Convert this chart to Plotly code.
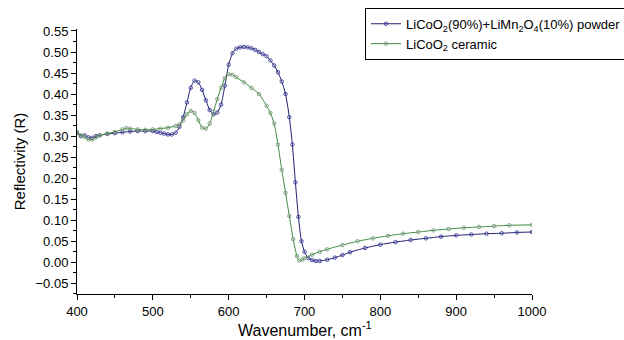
import plotly.graph_objects as go

powder_x = [400, 405, 410, 415, 420, 425, 430, 440, 450, 460, 470, 480, 490, 500, 505, 510, 515, 520, 525,
            530, 535, 540, 545, 550, 555, 560, 565, 570, 575, 580, 585, 590, 595, 600, 605, 610, 615, 620,
            625, 630, 635, 640, 645, 650, 655, 660, 665, 670, 675, 680, 684, 688, 692, 696, 700, 705, 710,
            715, 720, 730, 740, 750, 760, 780, 800, 820, 840, 860, 880, 900, 920, 940, 960, 980, 1000]
powder_y = [0.308, 0.300, 0.302, 0.297, 0.296, 0.300, 0.302, 0.305, 0.307, 0.309, 0.311, 0.312, 0.312, 0.312,
            0.310, 0.308, 0.306, 0.304, 0.304, 0.308, 0.322, 0.345, 0.380, 0.415, 0.432, 0.428, 0.410, 0.385,
            0.362, 0.352, 0.356, 0.375, 0.420, 0.470, 0.497, 0.508, 0.511, 0.512, 0.511, 0.509, 0.505, 0.500,
            0.495, 0.490, 0.480, 0.468, 0.452, 0.430, 0.400, 0.345, 0.280, 0.190, 0.108, 0.050, 0.025, 0.010,
            0.005, 0.003, 0.003, 0.006, 0.011, 0.017, 0.024, 0.034, 0.042, 0.048, 0.053, 0.057, 0.061, 0.064,
            0.066, 0.068, 0.069, 0.071, 0.072]

ceramic_x = [400, 405, 410, 415, 420, 425, 430, 440, 450, 460, 465, 470, 480, 490, 500, 510, 520, 530, 535,
             540, 545, 550, 555, 560, 565, 570, 575, 580, 585, 590, 595, 600, 605, 610, 620, 630, 640, 650,
             655, 660, 665, 670, 675, 680, 685, 690, 693, 697, 700, 710, 720, 730, 750, 770, 790, 810, 830,
             850, 870, 890, 910, 930, 950, 970, 1000]
ceramic_y = [0.310, 0.302, 0.298, 0.292, 0.292, 0.297, 0.302, 0.306, 0.310, 0.316, 0.319, 0.318, 0.316, 0.315,
             0.316, 0.318, 0.320, 0.324, 0.328, 0.337, 0.352, 0.360, 0.355, 0.338, 0.320, 0.318, 0.330, 0.358,
             0.388, 0.415, 0.438, 0.447, 0.446, 0.440, 0.428, 0.415, 0.400, 0.372, 0.355, 0.330, 0.280, 0.220,
             0.165, 0.110, 0.055, 0.015, 0.004, 0.006, 0.010, 0.018, 0.025, 0.031, 0.041, 0.050, 0.057, 0.063,
             0.068, 0.072, 0.076, 0.079, 0.082, 0.084, 0.086, 0.088, 0.089]

name_powder = "LiCoO<sub>2</sub>(90%)+LiMn<sub>2</sub>O<sub>4</sub>(10%) powder"
name_ceramic = "LiCoO<sub>2</sub> ceramic"
x_title = "Wavenumber, cm<sup>-1</sup>"
y_title = "Reflectivity (R)"

FONT = "Liberation Sans, Arial, sans-serif"

fig = go.Figure()
fig.add_trace(go.Scatter(
    x=powder_x, y=powder_y, name=name_powder, mode="lines+markers",
    line=dict(color="#1e1e6e", width=1, shape="spline", smoothing=0.6),
    marker=dict(symbol="circle-open", size=3.5, color="#3a3a9a", line=dict(width=0.9)),
))
fig.add_trace(go.Scatter(
    x=ceramic_x, y=ceramic_y, name=name_ceramic, mode="lines+markers",
    line=dict(color="#3f8a3f", width=1, shape="spline", smoothing=0.6),
    marker=dict(symbol="circle-open", size=3.5, color="#7a9a7a", line=dict(width=0.9)),
))

fig.update_layout(
    width=624, height=340,
    margin=dict(l=77, r=92, t=29, b=46, autoexpand=False),
    paper_bgcolor="white", plot_bgcolor="white",
    font=dict(family=FONT, color="black", size=13),
    showlegend=True,
    legend=dict(
        x=0.633, y=1.08, xanchor="left", yanchor="top",
        bordercolor="black", borderwidth=1, bgcolor="white",
        font=dict(family=FONT, size=13, color="black"),
        tracegroupgap=0, itemwidth=30,
    ),
    annotations=[dict(
        text=x_title, xref="paper", yref="paper", x=0.5, y=-0.132,
        xanchor="center", yanchor="middle", showarrow=False,
        font=dict(family=FONT, size=16, color="black"),
    )],
)
fig.update_xaxes(
    range=[400, 1000], dtick=100, tick0=400,
    showgrid=False, zeroline=False,
    showline=True, linecolor="black", linewidth=1,
    ticks="outside", ticklen=5, tickwidth=1, tickcolor="black",
    minor=dict(dtick=50, ticks="outside", ticklen=3, tickcolor="black", showgrid=False),
    tickfont=dict(size=13),
)
fig.update_yaxes(
    range=[-0.0754, 0.5547], dtick=0.05, tick0=0, tickformat=".2f",
    showgrid=False, zeroline=False,
    showline=True, linecolor="black", linewidth=1,
    ticks="outside", ticklen=5, tickwidth=1, tickcolor="black",
    minor=dict(dtick=0.025, ticks="outside", ticklen=3, tickcolor="black", showgrid=False),
    tickfont=dict(size=13),
    title=dict(text=y_title, font=dict(size=15), standoff=6),
)

fig.write_html("out.html")
